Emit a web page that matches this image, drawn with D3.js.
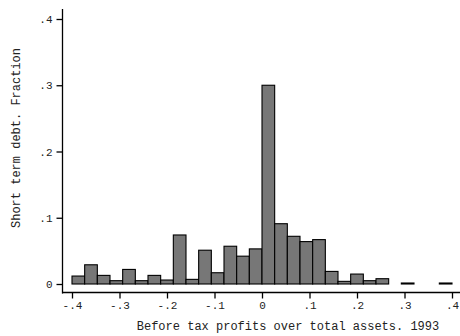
<!DOCTYPE html>
<html><head><meta charset="utf-8">
<script src="https://cdn.jsdelivr.net/npm/d3@7"></script>
<style>body{margin:0;background:#fff}svg text{font-family:"Liberation Mono","DejaVu Sans Mono",monospace;fill:#222}</style>
</head><body><svg id="c" width="460" height="336"></svg>
<script>
const binStart = -0.4;
const binWidth = 0.8 / 30;
const fractions = [0.012, 0.029, 0.013, 0.005, 0.022, 0.005, 0.013, 0.006, 0.074, 0.007,
  0.051, 0.017, 0.057, 0.042, 0.053, 0.300, 0.091, 0.072, 0.064, 0.067,
  0.019, 0.004, 0.015, 0.005, 0.008, 0.000, 0.0015, 0.000, 0.000, 0.0015];
const xTicks = [-0.4, -0.3, -0.2, -0.1, 0, 0.1, 0.2, 0.3, 0.4];
const xTickLabels = ["-.4", "-.3", "-.2", "-.1", "0", ".1", ".2", ".3", ".4"];
const yTicks = [0, 0.1, 0.2, 0.3, 0.4];
const yTickLabels = ["0", ".1", ".2", ".3", ".4"];
const xTitle = "Before tax profits over total assets. 1993";
const yTitle = "Short term debt. Fraction";

const svg = d3.select("#c");
const x = d3.scaleLinear().domain([-0.4, 0.4]).range([72, 452]);
const y = d3.scaleLinear().domain([0, 0.4]).range([284, 19]);

const bins = fractions.map((v, i) => ({x0: binStart + i * binWidth, x1: binStart + (i + 1) * binWidth, v}));

svg.append("g").selectAll("rect").data(bins.filter(d => d.v > 0)).join("rect")
  .attr("x", d => x(d.x0)).attr("width", d => x(d.x1) - x(d.x0))
  .attr("y", d => y(d.v)).attr("height", d => y(0) - y(d.v))
  .attr("fill", "#777").attr("stroke", "#000").attr("stroke-width", 1.1);

// y axis
const ya = svg.append("g").attr("transform", "translate(62.5,0)")
  .call(d3.axisLeft(y).tickValues(yTicks).tickFormat((d, i) => yTickLabels[i]).tickSize(6).tickPadding(4));
ya.select(".domain").attr("d", "M0,9V293.5").attr("stroke-width", 1.3);
ya.selectAll("text").attr("font-size", 11);
ya.selectAll(".tick line").attr("stroke-width", 1.3);

// x axis
const xa = svg.append("g").attr("transform", "translate(0,292.5)")
  .call(d3.axisBottom(x).tickValues(xTicks).tickFormat((d, i) => xTickLabels[i]).tickSize(6).tickPadding(3));
xa.select(".domain").attr("d", "M62,0H460").attr("stroke-width", 1.3);
xa.selectAll("text").attr("font-size", 11);
xa.selectAll(".tick line").attr("stroke-width", 1.3);

svg.append("text").attr("x", 288).attr("y", 330).attr("text-anchor", "middle")
  .attr("font-size", 12).text(xTitle);
svg.append("text").attr("transform", "translate(20,138) rotate(-90)").attr("text-anchor", "middle")
  .attr("font-size", 12).text(yTitle);
</script></body></html>
